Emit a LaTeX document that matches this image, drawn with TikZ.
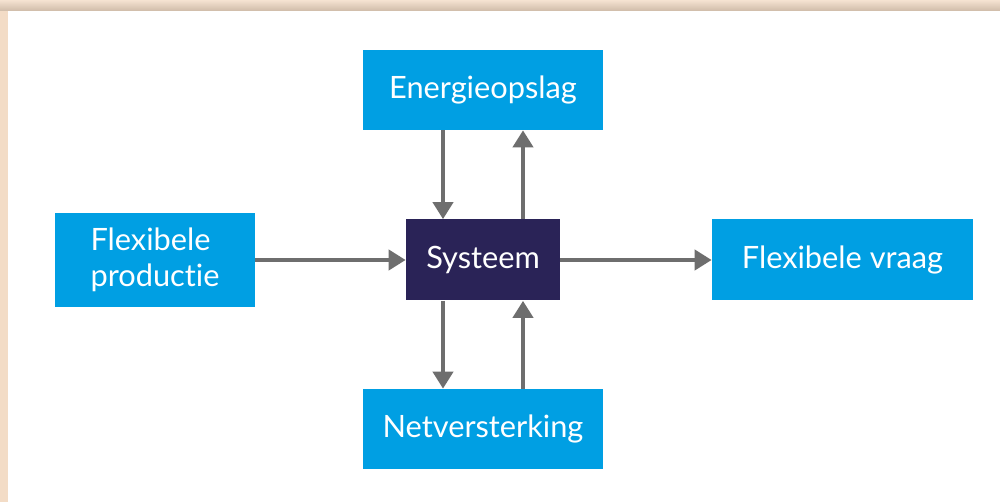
\documentclass[tikz,border=0pt]{standalone}
\usepackage{fontspec}
\setmainfont{Lato}[RawFeature=-liga]
\usetikzlibrary{arrows.meta}

\definecolor{vakblauw}{HTML}{009FE3}
\definecolor{systeemblauw}{HTML}{2A2357}
\definecolor{pijlgrijs}{HTML}{6E6E6E}
\definecolor{kaderbeige}{HTML}{F3DCC6}

\tikzset{
  blok/.style={fill=vakblauw,text=white,inner sep=0pt,align=center,font=\fontsize{17.5}{20.5}\selectfont},
  kern/.style={blok,fill=systeemblauw},
  pijl/.style={-{Triangle[width=0.4cm,length=0.34cm]},line width=0.08cm,color=pijlgrijs}
}

\begin{document}
\begin{tikzpicture}
	\useasboundingbox (0,0) rectangle (20,10.04);
	% kader
	\fill[kaderbeige] (0,0) rectangle (20,10.04);
	\fill[top color=kaderbeige!80!white,bottom color=kaderbeige!85!black] (0,9.82) rectangle (20,10.04);
	\fill[white] (0.16,0) rectangle (20,9.82);

	\node[kern,minimum width=3.08cm,minimum height=1.62cm] (systeem) at (9.66,4.84){Systeem};
	\node[blok,minimum width=4.8cm,minimum height=1.6cm] (opslag) at (9.66,8.24){Energieopslag};
	\node[blok,minimum width=4.8cm,minimum height=1.6cm] (net) at (9.66,1.46){Netversterking};
	\node[blok,align=left,minimum width=4.0cm,minimum height=1.88cm] (productie) at (3.1,4.84){Flexibele\\productie};
	\node[blok,minimum width=5.22cm,minimum height=1.62cm] (vraag) at (16.85,4.84){Flexibele vraag};

	\draw[pijl] (productie) -- (systeem);
	\draw[pijl] (systeem) -- (vraag);

	\draw[pijl] ([xshift=-0.8cm]opslag.south) -- ([xshift=-0.8cm]systeem.north);
	\draw[pijl] ([xshift=0.8cm]systeem.north) -- ([xshift=0.8cm]opslag.south);
	\draw[pijl] ([xshift=-0.8cm]systeem.south) -- ([xshift=-0.8cm]net.north);
	\draw[pijl] ([xshift=0.8cm]net.north) -- ([xshift=0.8cm]systeem.south);
\end{tikzpicture}
\end{document}
